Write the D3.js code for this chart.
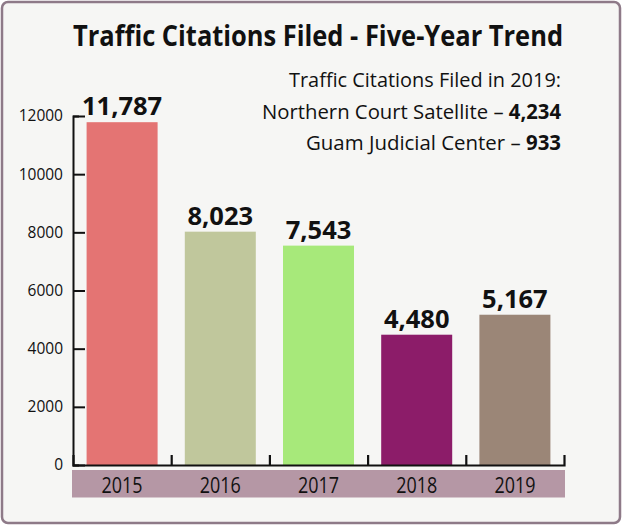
<!DOCTYPE html>
<html>
<head>
<meta charset="utf-8">
<script src="https://cdn.jsdelivr.net/npm/d3@7"></script>
<style>
  html, body { margin: 0; padding: 0; background: #ffffff; }
  svg { display: block; }
  text { font-family: "Open Sans", "Noto Sans", sans-serif; fill: #111; }
</style>
</head>
<body>
<div id="chart"></div>
<script>
// ---- data ----
const years = ["2015", "2016", "2017", "2018", "2019"];
const citations = [11787, 8023, 7543, 4480, 5167];
const barColors = ["#e47473", "#c0c79c", "#a7e97a", "#8c1c69", "#9b8677"];
const yTicks = [0, 2000, 4000, 6000, 8000, 10000, 12000];
const titleText = "Traffic Citations Filed - Five-Year Trend";
const noteTitle = "Traffic Citations Filed in 2019:";
const noteNames = ["Northern Court Satellite", "Guam Judicial Center"];
const noteValues = [4234, 933];

// ---- layout ----
const W = 622, H = 525;
const xLeft = 73, xRight = 564, yBottom = 465, yTop = 116;

const svg = d3.select("#chart").append("svg").attr("width", W).attr("height", H);

// frame
svg.append("rect")
  .attr("x", 2).attr("y", 2).attr("width", W - 4).attr("height", H - 4)
  .attr("rx", 6).attr("ry", 6)
  .attr("fill", "#f6f6f4").attr("stroke", "#8e7a88").attr("stroke-width", 2.5);

// title
svg.append("text")
  .attr("x", 318).attr("y", 45.5)
  .attr("text-anchor", "middle")
  .attr("font-size", 28.5).attr("font-weight", 700)
  .attr("textLength", 490).attr("lengthAdjust", "spacingAndGlyphs")
  .text(titleText);

// note lines
const fmt = d3.format(",");
svg.append("text")
  .attr("x", 561).attr("y", 87).attr("text-anchor", "end")
  .attr("font-size", 20.5)
  .attr("textLength", 272).attr("lengthAdjust", "spacingAndGlyphs")
  .text(noteTitle);
const noteWidths = [299, 255];
noteNames.forEach((n, i) => {
  const t = svg.append("text")
    .attr("x", 561).attr("y", 119 + i * 31).attr("text-anchor", "end")
    .attr("font-size", 20.5)
    .attr("textLength", noteWidths[i]).attr("lengthAdjust", "spacingAndGlyphs");
  t.append("tspan").text(n + " \u2013 ");
  t.append("tspan").attr("font-weight", 700).text(fmt(noteValues[i]));
});

// scales
const x = d3.scaleBand().domain(years).range([xLeft, xRight]).paddingInner(0.277).paddingOuter(0.1385);
const xEdge = d3.scaleLinear().domain([0, years.length]).range([xLeft, xRight]);
const y = d3.scaleLinear().domain([0, 12000]).range([yBottom, yTop]);

const data = years.map((yr, i) => ({ year: yr, value: citations[i], color: barColors[i] }));

// year band background
svg.append("rect")
  .attr("x", xLeft - 1).attr("y", 470)
  .attr("width", xRight - xLeft + 2).attr("height", 27.5)
  .attr("fill", "#b597a5");

// bars
svg.append("g").selectAll("rect").data(data).join("rect")
  .attr("x", d => x(d.year))
  .attr("y", d => y(d.value))
  .attr("width", x.bandwidth())
  .attr("height", d => y(0) - y(d.value))
  .attr("fill", d => d.color);

// value labels
svg.append("g").selectAll("text").data(data).join("text")
  .attr("x", d => x(d.year) + x.bandwidth() / 2)
  .attr("y", d => y(d.value) - 7)
  .attr("text-anchor", "middle")
  .attr("font-size", 25.5).attr("font-weight", 700)
  .text(d => fmt(d.value));

// y axis
const yAxis = svg.append("g")
  .attr("transform", `translate(${xLeft},0)`)
  .call(d3.axisLeft(y).tickValues(yTicks).tickSizeInner(-12).tickSizeOuter(-6).tickPadding(10).tickFormat(d3.format("d")));
yAxis.selectAll("path, line").attr("stroke", "#111").attr("stroke-width", 2);
yAxis.selectAll("text").attr("font-size", 15.5).attr("font-family", "Open Sans").attr("fill", "#111");

// x axis (ticks at category boundaries)
const xAxis = svg.append("g")
  .attr("transform", `translate(0,${yBottom})`)
  .call(d3.axisBottom(xEdge).tickValues(d3.range(1, years.length)).tickSizeInner(-10).tickSizeOuter(-10).tickFormat(""));
xAxis.selectAll("path, line").attr("stroke", "#111").attr("stroke-width", 2.2);

// year labels
svg.append("g").selectAll("text").data(years).join("text")
  .attr("x", d => xEdge(years.indexOf(d) + 0.5))
  .attr("y", 492.8)
  .attr("text-anchor", "middle")
  .attr("font-size", 21)
  .attr("textLength", 41).attr("lengthAdjust", "spacingAndGlyphs")
  .text(d => d);
</script>
</body>
</html>
